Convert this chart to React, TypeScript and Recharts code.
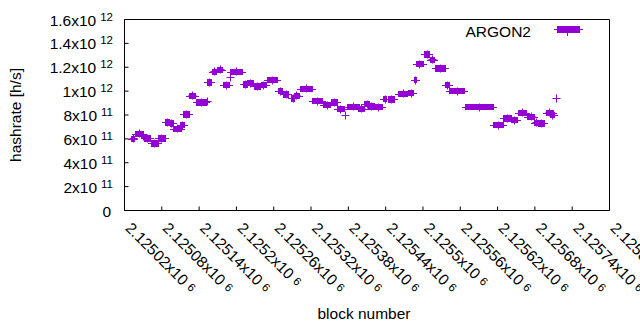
import { ScatterChart, Scatter, XAxis, YAxis, ReferenceArea, Legend } from "recharts";

const PURPLE = "#9400d3";
const FONT = "'Liberation Sans', Arial, sans-serif";

// block at the centre of each window, and half its width in blocks
const blocks = [
  2125034, 2125044, 2125051, 2125057, 2125069, 2125080, 2125089, 2125096, 2125105, 2125113,
  2125120, 2125129, 2125144, 2125153, 2125157, 2125165, 2125174, 2125184, 2125190, 2125200,
  2125215, 2125223, 2125234, 2125244, 2125258, 2125271, 2125280, 2125291, 2125297, 2125313,
  2125330, 2125346, 2125358, 2125368, 2125376, 2125388, 2125401, 2125410, 2125417, 2125429,
  2125439, 2125449, 2125468, 2125481, 2125488, 2125495, 2125507, 2125515, 2125528, 2125539,
  2125555, 2125591, 2125622, 2125636, 2125647, 2125660, 2125674, 2125683, 2125691, 2125704,
  2125708, 2125714,
];
const blockHalfSpans = [
  3, 7, 5, 6, 6, 6, 4, 3, 7, 4,
  6, 6, 9, 0, 4, 4, 5, 6, 1, 10,
  4, 6, 6, 5, 9, 4, 5, 3, 5, 10,
  9, 6, 6, 6, 0, 10, 6, 5, 6, 6,
  3, 6, 8, 5, 2, 6, 5, 4, 9, 4,
  13, 23, 9, 7, 6, 7, 6, 5, 6, 6,
  4, 0,
];
// hashrate and its spread, in 10^9 h/s
const hashrateG = [
  599, 641, 624, 607, 565, 607, 741, 725, 683, 716,
  808, 963, 901, 909, 1076, 1164, 1177, 1051, 1118, 1164,
  1056, 1068, 1039, 1051, 1093, 1001, 972, 938, 963, 1018,
  917, 880, 901, 850, 800, 871, 854, 892, 875, 867,
  934, 926, 976, 984, 1093, 1227, 1303, 1261, 1190, 1051,
  1001, 867, 716, 767, 758, 817, 787, 733, 725, 817,
  800, 942,
];
const hashrateSpreadG = [
  29, 29, 21, 29, 29, 29, 29, 29, 29, 29,
  29, 25, 29, 21, 29, 25, 21, 29, 25, 25,
  29, 29, 33, 29, 29, 29, 29, 33, 25, 29,
  29, 25, 29, 29, 0, 25, 25, 29, 29, 29,
  29, 29, 29, 29, 29, 29, 29, 29, 33, 29,
  29, 29, 29, 29, 29, 29, 25, 29, 29, 29,
  21, 0,
];

const xTicks = [
  2125020, 2125080, 2125140, 2125200, 2125260, 2125320, 2125380,
  2125440, 2125500, 2125560, 2125620, 2125680, 2125740, 2125800,
];
const yTicks = [0, 2e11, 4e11, 6e11, 8e11, 1e12, 1.2e12, 1.4e12, 1.6e12];

const points = blocks.map((b, i) => ({
  block: b,
  span: blockHalfSpans[i],
  hashrate: hashrateG[i] * 1e9,
  spread: hashrateSpreadG[i] * 1e9,
}));

function sci(v: number) {
  if (v === 0) return { mant: "0", exp: "" };
  const exp = Math.floor(Math.log10(v));
  const mant = parseFloat((v / Math.pow(10, exp)).toFixed(6));
  return { mant: String(mant), exp: String(exp) };
}

function XTick(p: any) {
  const { x, y, payload } = p;
  const { mant, exp } = sci(payload.value);
  return (
    <text x={x} y={y} transform={`rotate(45 ${x} ${y})`} fontSize={15.5} fill="#000">
      {mant}x10
      <tspan dx={4.5} dy={-2} fontSize={11.5}>{exp}</tspan>
    </text>
  );
}

function YTick(p: any) {
  const { x, y, payload } = p;
  const { mant, exp } = sci(payload.value);
  if (!exp) {
    return (
      <text x={x - 2} y={y + 6} textAnchor="end" fontSize={15.5} fill="#000">{mant}</text>
    );
  }
  return (
    <text x={x} y={y + 6} textAnchor="end" fontSize={15.5} fill="#000">
      {mant}x10
      <tspan dx={4} dy={-5} fontSize={11.5}>{exp}</tspan>
    </text>
  );
}

const NoTick = () => null;

function XTitle(p: any) {
  const { x, y, width } = p.viewBox;
  return (
    <text x={x + width / 2 - 3} y={y + 108} textAnchor="middle" fontSize={15.5} fill="#000">
      block number
    </text>
  );
}

function YTitle(p: any) {
  const { x, y, height } = p.viewBox;
  const lx = x - 2.5;
  const ly = y + height / 2;
  return (
    <text x={lx} y={ly} transform={`rotate(-90 ${lx} ${ly})`} textAnchor="middle" fontSize={15.5} fill="#000">
      hashrate [h/s]
    </text>
  );
}

// filled box over the block window, with the horizontal bar poking out both ends
function WindowBox(p: any) {
  const x0 = Math.round(p.x);
  const x1 = Math.round(p.x + p.width);
  const y0 = Math.round(p.y);
  const y1 = Math.round(p.y + p.height);
  const yc = Math.floor((y0 + y1) / 2) + 0.5;
  return (
    <g>
      <rect x={x0} y={y0} width={Math.max(x1 - x0, 0)} height={Math.max(y1 - y0, 0)} fill={PURPLE} />
      <line x1={x0 - 3} x2={x1 + 3} y1={yc} y2={yc} stroke={PURPLE} strokeWidth={1} />
    </g>
  );
}

function Cross(p: any) {
  const cx = Math.floor(p.cx) + 0.5;
  const cy = Math.floor(p.cy) + 0.5;
  return (
    <g>
      <line x1={cx - 4} x2={cx + 4} y1={cy} y2={cy} stroke={PURPLE} strokeWidth={1} />
      <line x1={cx} x2={cx} y1={cy - 4} y2={cy + 4} stroke={PURPLE} strokeWidth={1} />
    </g>
  );
}

function KeyBox() {
  return (
    <svg width={170} height={30} style={{ display: "block" }}>
      <text x={101} y={27} textAnchor="end" fontSize={15.5} fill="#000" fontFamily={FONT}>
        ARGON2
      </text>
      <rect x={127} y={16} width={23} height={7} fill={PURPLE} />
      <line x1={124} x2={153} y1={19.5} y2={19.5} stroke={PURPLE} strokeWidth={1} />
      <line x1={137.5} x2={137.5} y1={23} y2={26} stroke={PURPLE} strokeWidth={1} />
    </svg>
  );
}

export default function App() {
  return (
    <div
      style={{
        position: "absolute",
        left: 0,
        top: 0,
        width: 640,
        height: 330,
        background: "#fff",
        fontFamily: FONT,
      }}
    >
      <ScatterChart width={640} height={330} margin={{ top: 18.5, right: 29.5, bottom: 18.5, left: 23.5 }}>
        <XAxis
          xAxisId="bottom"
          type="number"
          dataKey="block"
          domain={[xTicks[0], xTicks[xTicks.length - 1]]}
          ticks={xTicks}
          interval={0}
          height={101}
          tickSize={-4}
          tickMargin={22.5}
          tick={<XTick />}
          axisLine={{ stroke: "#000" }}
          tickLine={{ stroke: "#000" }}
          label={{ content: XTitle }}
        />
        <XAxis
          xAxisId="top"
          orientation="top"
          type="number"
          dataKey="block"
          domain={[xTicks[0], xTicks[xTicks.length - 1]]}
          ticks={xTicks}
          interval={0}
          height={1}
          tickSize={-4}
          tick={NoTick}
          axisLine={{ stroke: "#000" }}
          tickLine={{ stroke: "#000" }}
        />
        <YAxis
          yAxisId="left"
          type="number"
          dataKey="hashrate"
          domain={[yTicks[0], yTicks[yTicks.length - 1]]}
          ticks={yTicks}
          interval={0}
          width={101}
          tickSize={-4}
          tickMargin={15.5}
          tick={<YTick />}
          axisLine={{ stroke: "#000" }}
          tickLine={{ stroke: "#000" }}
          label={{ content: YTitle }}
        />
        <YAxis
          yAxisId="right"
          orientation="right"
          type="number"
          dataKey="hashrate"
          domain={[yTicks[0], yTicks[yTicks.length - 1]]}
          ticks={yTicks}
          interval={0}
          width={1}
          tickSize={-4}
          tick={NoTick}
          axisLine={{ stroke: "#000" }}
          tickLine={{ stroke: "#000" }}
        />
        {points.map((pt, i) => (
          <ReferenceArea
            key={i}
            xAxisId="bottom"
            yAxisId="left"
            x1={pt.block - pt.span}
            x2={pt.block + pt.span}
            y1={pt.hashrate - pt.spread}
            y2={pt.hashrate + pt.spread}
            shape={WindowBox}
          />
        ))}
        <Scatter
          name="ARGON2"
          data={points}
          xAxisId="bottom"
          yAxisId="left"
          fill={PURPLE}
          shape={Cross}
          isAnimationActive={false}
        />
        <Legend
          layout="horizontal"
          verticalAlign="middle"
          align="center"
          wrapperStyle={{ left: 430, top: 10, width: 170, height: 30 }}
          content={KeyBox}
        />
      </ScatterChart>
    </div>
  );
}
